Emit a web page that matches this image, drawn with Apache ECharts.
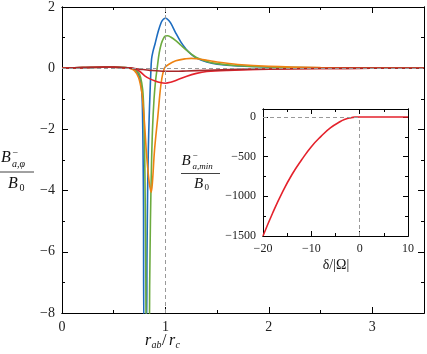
<!DOCTYPE html>
<html>
<head>
<meta charset="utf-8">
<script src="https://cdn.jsdelivr.net/npm/echarts@6/dist/echarts.min.js"></script>
<style>
html, body { margin: 0; padding: 0; background: #fff; }
#chart { width: 427px; height: 354px; }
</style>
</head>
<body>
<div id="chart"></div>
<script>
// main panel, x = r_ab / r_c, y = B^-_{a,phi} / B_0
const rBlue = [0, 0.2, 0.4, 0.5, 0.6, 0.66, 0.7, 0.73, 0.75, 0.765, 0.775, 0.781, 0.785, 0.788, 0.792, 0.815, 0.822, 0.828, 0.835, 0.842, 0.85, 0.858, 0.866, 0.88, 0.9, 0.93, 0.96, 0.98, 1.0, 1.02, 1.05, 1.1, 1.15, 1.2, 1.25, 1.3, 1.4, 1.5, 1.7, 2.0, 2.5, 3.0, 3.5];
const vBlue = [0, 0.02, 0.03, 0.03, 0.02, 0, -0.05, -0.15, -0.3, -0.55, -1.0, -2.0, -3.2, -4.5, -8.6, -8.6, -6.0, -4.0, -2.6, -1.7, -0.9, -0.2, 0.3, 0.55, 0.8, 1.2, 1.5, 1.6, 1.63, 1.6, 1.48, 1.15, 0.85, 0.62, 0.45, 0.33, 0.2, 0.13, 0.07, 0.035, 0.012, 0.005, 0];

const rGreen = [0, 0.2, 0.4, 0.5, 0.6, 0.66, 0.7, 0.74, 0.76, 0.78, 0.79, 0.798, 0.805, 0.81, 0.815, 0.842, 0.848, 0.855, 0.865, 0.875, 0.89, 0.905, 0.92, 0.94, 0.96, 0.98, 1.0, 1.02, 1.05, 1.1, 1.15, 1.2, 1.25, 1.3, 1.4, 1.5, 1.7, 2.0, 2.5, 3.0, 3.5];
const vGreen = [0, 0.02, 0.03, 0.03, 0.02, 0, -0.04, -0.14, -0.3, -0.7, -1.3, -2.5, -4.5, -6.5, -8.6, -8.6, -7.0, -5.0, -3.2, -2.0, -1.0, -0.4, 0, 0.5, 0.8, 0.97, 1.05, 1.06, 1.02, 0.9, 0.75, 0.6, 0.46, 0.35, 0.22, 0.15, 0.08, 0.04, 0.015, 0.006, 0];

const rOrange = [0, 0.2, 0.4, 0.5, 0.6, 0.65, 0.7, 0.74, 0.77, 0.78, 0.8, 0.815, 0.83, 0.846, 0.862, 0.875, 0.894, 0.926, 0.958, 0.99, 1.03, 1.1, 1.2, 1.25, 1.3, 1.4, 1.5, 1.7, 2.0, 2.5, 3.0, 3.5];
const vOrange = [0, 0.02, 0.03, 0.03, 0.02, 0, -0.08, -0.3, -0.75, -1.05, -1.9, -2.7, -3.3, -3.8, -4.05, -3.7, -2.7, -1.6, -0.5, 0, 0.12, 0.24, 0.31, 0.32, 0.31, 0.26, 0.2, 0.12, 0.06, 0.02, 0.008, 0];

const rRed = [0, 0.2, 0.4, 0.5, 0.6, 0.7, 0.75, 0.8, 0.85, 0.9, 0.95, 1.0, 1.05, 1.1, 1.2, 1.3, 1.4, 1.6, 2.0, 2.5, 3.0, 3.5];
const vRed = [0, 0.02, 0.03, 0.03, 0.01, -0.02, -0.1, -0.25, -0.35, -0.42, -0.47, -0.49, -0.46, -0.4, -0.27, -0.17, -0.11, -0.07, -0.03, -0.01, -0.004, 0];

const rDarkRed = [0, 0.2, 0.4, 0.5, 0.65, 0.75, 0.85, 1.0, 1.1, 1.2, 1.4, 1.7, 2.0, 2.5, 3.0, 3.5];
const vDarkRed = [0, 0.02, 0.04, 0.04, 0.01, -0.03, -0.07, -0.1, -0.1, -0.09, -0.07, -0.04, -0.025, -0.01, -0.004, 0];

// inset, x = delta / |Omega|, y = B^-_{a,min} / B_0
const delta = [-20, -18, -16, -14, -12, -10, -8, -6, -4, -3, -2, -1, 0, 5, 10];
const bMin = [-1500, -1210, -950, -725, -540, -375, -245, -135, -58, -30, -12, -2, 0, 0, 0];

const FONT = 'Liberation Serif';
const pairs = (xs, ys) => xs.map((x, i) => [x, ys[i]]);
const fmt = step => v => {
  const k = v / step;
  if (Math.abs(k - Math.round(k)) > 1e-9) return '';
  return String(v).replace('-', '\u2212');
};

function axis(grid, pos, min, max, interval, len, label, fs) {
  return {
    type: 'value', gridIndex: grid, position: pos, min: min, max: max, interval: interval,
    axisLine: { show: true, onZero: false, lineStyle: { color: '#000', width: 1 } },
    axisTick: { show: true, inside: true, length: len, lineStyle: { color: '#000', width: 1 } },
    axisLabel: { show: label, color: '#222', fontFamily: FONT, fontSize: fs, margin: 7, formatter: fmt(interval) },
    splitLine: { show: false }
  };
}

const xAxes = [
  axis(0, 'bottom', 0, 3.5, 1, 6, true, 14),
  axis(0, 'bottom', 0, 3.5, 0.5, 3, false),
  axis(0, 'top', 0, 3.5, 1, 6, false),
  axis(0, 'top', 0, 3.5, 0.5, 3, false),
  axis(1, 'bottom', -20, 10, 10, 5, true, 12),
  axis(1, 'bottom', -20, 10, 5, 3, false),
  axis(1, 'top', -20, 10, 10, 5, false),
  axis(1, 'top', -20, 10, 5, 3, false)
];
const yAxes = [
  axis(0, 'left', -8, 2, 2, 6, true, 14),
  axis(0, 'left', -8, 2, 1, 3, false),
  axis(0, 'right', -8, 2, 2, 6, false),
  axis(0, 'right', -8, 2, 1, 3, false),
  axis(1, 'left', -1500, 100, 500, 5, true, 12),
  axis(1, 'left', -1500, 100, 250, 3, false),
  axis(1, 'right', -1500, 100, 500, 5, false),
  axis(1, 'right', -1500, 100, 250, 3, false)
];

const dash = { type: [4, 3], color: '#999', width: 1 };
const line = (name, xs, ys, color, extra) => Object.assign({
  name: name, type: 'line', data: pairs(xs, ys), xAxisIndex: 0, yAxisIndex: 0,
  showSymbol: false, symbol: 'none', smooth: 0.35,
  lineStyle: { color: color, width: 1.6 }, itemStyle: { color: color }
}, extra || {});

function t(x, y, s, size, italic, align) {
  return {
    type: 'text', x: x, y: y, silent: true,
    style: { text: s, fill: '#111', font: (italic ? 'italic ' : '') + size + 'px "' + FONT + '"',
      textAlign: align || 'left', textVerticalAlign: 'middle' }
  };
}
function hr(x1, x2, y) {
  return { type: 'line', silent: true, shape: { x1: x1, y1: y, x2: x2, y2: y }, style: { stroke: '#111', lineWidth: 0.8 } };
}

const chart = echarts.init(document.getElementById('chart'));
chart.setOption({
  animation: false,
  backgroundColor: '#fff',
  grid: [
    { left: 62, right: 1, top: 7, bottom: 41 },
    { left: 263, right: 19, top: 109, bottom: 118 }
  ],
  xAxis: xAxes,
  yAxis: yAxes,
  series: [
    line('blue', rBlue, vBlue, '#1c6cc0', {
      markLine: { silent: true, symbol: ['none', 'none'], label: { show: false }, lineStyle: dash,
        data: [{ xAxis: 1 }, { yAxis: 0 }] }
    }),
    line('green', rGreen, vGreen, '#6cab3e'),
    line('orange', rOrange, vOrange, '#ee8312'),
    line('red', rRed, vRed, '#e4222c'),
    line('darkred', rDarkRed, vDarkRed, '#a8282a'),
    line('inset', delta, bMin, '#e4222c', {
      xAxisIndex: 4, yAxisIndex: 4, smooth: 0.5,
      markLine: { silent: true, symbol: ['none', 'none'], label: { show: false }, lineStyle: dash,
        data: [
          [{ coord: [-20, 0] }, { coord: [0, 0] }],
          [{ coord: [0, -1500] }, { coord: [0, 0] }]
        ] }
    })
  ],
  graphic: [
    // main y label
    t(1, 158, 'B', 16, true),
    t(12.5, 153, '\u2212', 10, false),
    t(12, 164, 'a,\u03c6', 10, true),
    hr(0, 34, 172),
    t(8, 184, 'B', 16, true),
    t(19.5, 188, '0', 10, false),
    // main x label
    t(145, 341, 'r', 16, true),
    t(151.5, 345, 'ab', 10, true),
    t(162, 341, '/', 16, false),
    t(169, 341, 'r', 16, true),
    t(175.5, 345, 'c', 10, true),
    // inset y label
    t(181.5, 161, 'B', 15, true),
    t(192.5, 156, '\u2212', 9, false),
    t(192.5, 167, 'a,min', 9, true),
    hr(181, 220, 173.5),
    t(194, 184, 'B', 15, true),
    t(204.5, 188, '0', 9, false),
    // inset x label
    t(336, 265, '\u03b4/|\u03a9|', 14, false, 'center')
  ]
});
</script>
</body>
</html>
